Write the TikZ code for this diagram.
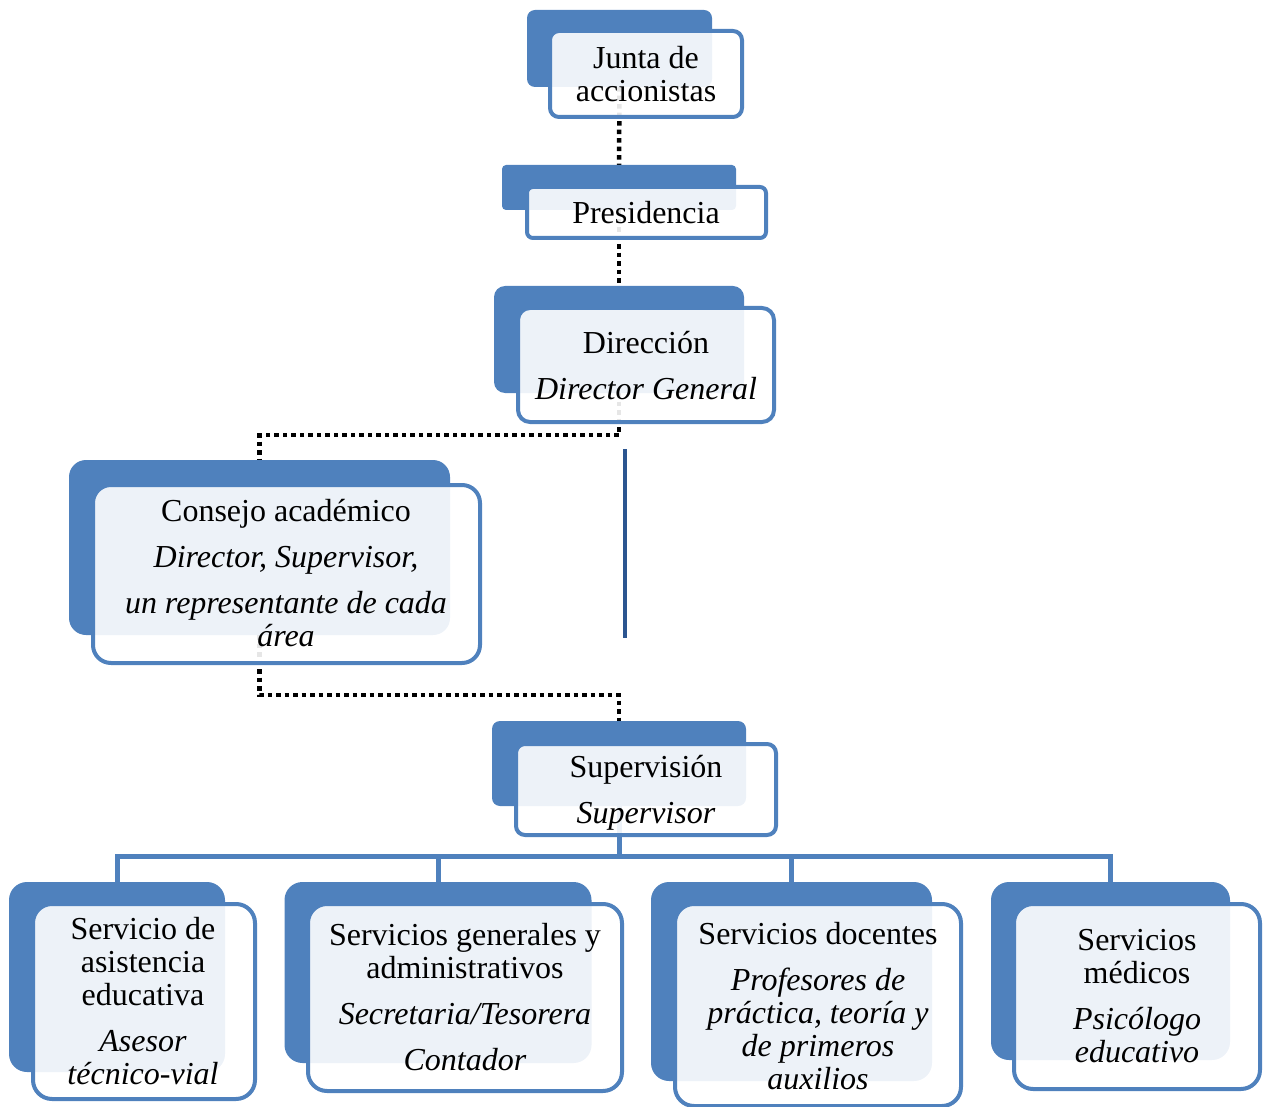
\documentclass[tikz,border=0pt]{standalone}
\usepackage{fontspec}
\setmainfont{Liberation Serif}
\definecolor{accent}{HTML}{4F81BD}
\definecolor{navy}{HTML}{2B5590}
\pgfdeclarelayer{bg}
\pgfsetlayers{bg,main}
\tikzset{
  backbox/.style={shape=rectangle, fill=accent, draw=none, inner sep=0pt},
  frontbox/.style={shape=rectangle, draw=accent, line width=4pt, fill=white, fill opacity=0.9, inner sep=0pt},
  txt/.style={align=center, inner sep=0pt, text=black, font=\fontsize{32}{33}\selectfont},
  dotline/.style={draw=black, line width=4.5pt, dash pattern=on 4.5pt off 4pt},
  treeline/.style={draw=accent, line width=5pt},
  navyline/.style={draw=navy, line width=4pt}
}
\begin{document}
\begin{tikzpicture}[x=1pt,y=-1pt]
\useasboundingbox (0,0) rectangle (1264,1107);
% back boxes
\path
  node[backbox, minimum width=185pt, minimum height=77pt, rounded corners=8pt] (junta-b) at (619.5,48.5) {}
  node[backbox, minimum width=234pt, minimum height=45pt, rounded corners=4pt] (pres-b) at (619,187.5) {}
  node[backbox, minimum width=250pt, minimum height=107pt, rounded corners=11pt] (dir-b) at (619,339.5) {}
  node[backbox, minimum width=381pt, minimum height=175pt, rounded corners=17pt] (cons-b) at (259.5,547.5) {}
  node[backbox, minimum width=254pt, minimum height=85pt, rounded corners=8pt] (sup-b) at (619,763.5) {}
  node[backbox, minimum width=216pt, minimum height=190pt, rounded corners=18pt] (a-b) at (117,977) {}
  node[backbox, minimum width=307pt, minimum height=181pt, rounded corners=18pt] (b-b) at (438,972.5) {}
  node[backbox, minimum width=281pt, minimum height=199pt, rounded corners=18pt] (c-b) at (791.5,981.5) {}
  node[backbox, minimum width=239pt, minimum height=178pt, rounded corners=18pt] (d-b) at (1110.5,971) {};
% connectors under the boxes
\begin{pgfonlayer}{bg}
  \draw[dotline] (junta-b.south) -- (pres-b.north);
  \draw[dotline] (pres-b.south) -- (dir-b.north);
  \draw[dotline] (dir-b.south) -- ++(0,42) -| (cons-b.north);
  \draw[dotline] (cons-b.south) -- ++(0,60) -| (sup-b.north);
  \draw[treeline] (sup-b.south) -- ++(0,50) -| (a-b.north);
  \draw[treeline] (sup-b.south) -- ++(0,50) -| (b-b.north);
  \draw[treeline] (sup-b.south) -- ++(0,50) -| (c-b.north);
  \draw[treeline] (sup-b.south) -- ++(0,50) -| (d-b.north);
\end{pgfonlayer}
\coordinate (v1) at (625,449);
\coordinate (v2) at (625,638);
\draw[navyline] (v1) -- (v2);
% front boxes
\path
  node[frontbox, minimum width=192pt, minimum height=86pt, rounded corners=9pt] (junta-f) at (646,74) {}
  node[frontbox, minimum width=239pt, minimum height=51pt, rounded corners=6pt] (pres-f) at (646.5,212.5) {}
  node[frontbox, minimum width=256pt, minimum height=114pt, rounded corners=12pt] (dir-f) at (646,365) {}
  node[frontbox, minimum width=387pt, minimum height=178pt, rounded corners=18pt] (cons-f) at (286.5,574) {}
  node[frontbox, minimum width=260pt, minimum height=91pt, rounded corners=9pt] (sup-f) at (646,789.5) {}
  node[frontbox, minimum width=222pt, minimum height=195pt, rounded corners=19pt] (a-f) at (144,1001.5) {}
  node[frontbox, minimum width=314pt, minimum height=187pt, rounded corners=19pt] (b-f) at (465,997.5) {}
  node[frontbox, minimum width=286pt, minimum height=202pt, rounded corners=19pt] (c-f) at (818,1005) {}
  node[frontbox, minimum width=246pt, minimum height=185pt, rounded corners=19pt] (d-f) at (1137,996.5) {};
% texts
\node[txt] (junta-t) at (646,74.5) {Junta de\\accionistas};
\node[txt] (pres-t) at (646,213) {Presidencia};
\node[txt] (dir-t) at (646,365.5) {Dirección\\[13pt]\textit{Director General}};
\node[txt] (cons-t) at (286,573.5) {Consejo académico\\[13pt]\textit{Director, Supervisor,}\\[13pt]\textit{un representante de cada}\\\textit{área}};
\node[txt] (sup-t) at (646,792.5) {Supervisión\\[13pt]\textit{Supervisor}};
\node[txt] (a-t) at (143,1001.5) {Servicio de\\asistencia\\educativa\\[13pt]\textit{Asesor}\\\textit{técnico-vial}};
\node[txt] (b-t) at (465,997.5) {Servicios generales y\\administrativos\\[13pt]\textit{Secretaria/Tesorera}\\[13pt]\textit{Contador}};
\node[txt] (c-t) at (818,1006) {Servicios docentes\\[13pt]\textit{Profesores de}\\\textit{práctica, teoría y}\\\textit{de primeros}\\\textit{auxilios}};
\node[txt] (d-t) at (1137,996.5) {Servicios\\médicos\\[13pt]\textit{Psicólogo}\\\textit{educativo}};
\end{tikzpicture}
\end{document}
